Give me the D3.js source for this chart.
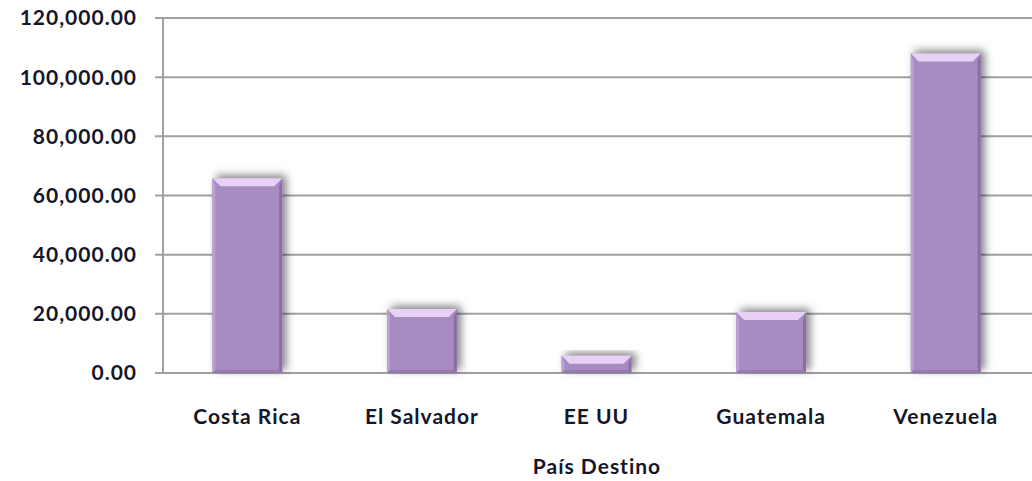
<!DOCTYPE html>
<html>
<head>
<meta charset="utf-8">
<script src="https://cdn.jsdelivr.net/npm/d3@7"></script>
<style>
  body { margin: 0; background: #fff; }
  text { font-family: Lato, "Open Sans", sans-serif; font-weight: bold; fill: #16162a; letter-spacing: 1px; }
</style>
</head>
<body>
<div id="chart"></div>
<script>
const paises = ["Costa Rica", "El Salvador", "EE UU", "Guatemala", "Venezuela"];
const montos = [65800, 21600, 5800, 20600, 108000];
const yTicks = [0, 20000, 40000, 60000, 80000, 100000, 120000];

const width = 1032;
const height = 481;
const axisX = 163;

const svg = d3.select("#chart")
  .append("svg")
  .attr("width", width)
  .attr("height", height);

// soft shadow behind the bars
const defs = svg.append("defs");
const f = defs.append("filter")
  .attr("id", "sombra")
  .attr("x", "-30%").attr("y", "-30%")
  .attr("width", "160%").attr("height", "160%");
f.append("feDropShadow")
  .attr("dx", 4).attr("dy", -3)
  .attr("stdDeviation", 4)
  .attr("flood-color", "#000")
  .attr("flood-opacity", 0.5);

const x = d3.scaleBand()
  .domain(paises)
  .range([160, 1033])
  .paddingInner(0.6)
  .paddingOuter(0.3);

const y = d3.scaleLinear()
  .domain([0, 120000])
  .range([373, 18]);

const fmt = d3.format(",.2f");

// grid lines + ticks
const grid = svg.append("g");
grid.selectAll("line")
  .data(yTicks)
  .join("line")
  .attr("x1", axisX - 8)
  .attr("x2", width)
  .attr("y1", d => y(d))
  .attr("y2", d => y(d))
  .style("stroke", "#a0a0a0")
  .style("stroke-width", 2);

svg.append("line")
  .attr("x1", axisX).attr("x2", axisX)
  .attr("y1", y(120000)).attr("y2", y(0))
  .style("stroke", "#a0a0a0")
  .style("stroke-width", 2);

svg.append("g")
  .selectAll("text")
  .data(yTicks)
  .join("text")
  .attr("x", 137)
  .attr("y", d => y(d))
  .attr("dy", "0.35em")
  .style("text-anchor", "end")
  .style("font-size", "21px")
  .text(d => fmt(d));

// bars with bevel
const bars = svg.append("g")
  .selectAll("g")
  .data(paises)
  .join("g");

const bw = x.bandwidth();
const bev = 8;
const side = 3;

bars.append("rect")
  .attr("x", d => x(d))
  .attr("y", (d, i) => y(montos[i]))
  .attr("width", bw)
  .attr("height", (d, i) => y(0) - y(montos[i]))
  .style("fill", "#a68cc1")
  .attr("filter", "url(#sombra)");

// left edge lighter
bars.append("polygon")
  .attr("points", (d, i) => {
    const x0 = x(d), t = y(montos[i]), b = y(0);
    const h = Math.min(bev, (b - t) / 2);
    return [[x0, t], [x0 + side, t + h], [x0 + side, b - side], [x0, b]].join(" ");
  })
  .style("fill", "#b8a2d2");

// right edge darker
bars.append("polygon")
  .attr("points", (d, i) => {
    const x1 = x(d) + bw, t = y(montos[i]), b = y(0);
    const h = Math.min(bev, (b - t) / 2);
    return [[x1, t], [x1 - side, t + h], [x1 - side, b - side], [x1, b]].join(" ");
  })
  .style("fill", "#8a6fa5");

// bottom edge
bars.append("polygon")
  .attr("points", (d, i) => {
    const x0 = x(d), x1 = x0 + bw, b = y(0);
    return [[x0, b], [x0 + side, b - side], [x1 - side, b - side], [x1, b]].join(" ");
  })
  .style("fill", "#957ab0");

// top cap
bars.append("polygon")
  .attr("points", (d, i) => {
    const x0 = x(d), x1 = x0 + bw, t = y(montos[i]), b = y(0);
    const h = Math.min(bev, (b - t) / 2);
    return [[x0, t], [x1, t], [x1 - bev, t + h], [x0 + bev, t + h]].join(" ");
  })
  .style("fill", "#e7d1f6");

// category labels
svg.append("g")
  .selectAll("text")
  .data(paises)
  .join("text")
  .attr("x", d => x(d) + bw / 2)
  .attr("y", 424)
  .style("text-anchor", "middle")
  .style("font-size", "21px")
  .text(d => d);

svg.append("text")
  .attr("x", 597)
  .attr("y", 474)
  .style("text-anchor", "middle")
  .style("font-size", "21px")
  .text("País Destino");
</script>
</body>
</html>
